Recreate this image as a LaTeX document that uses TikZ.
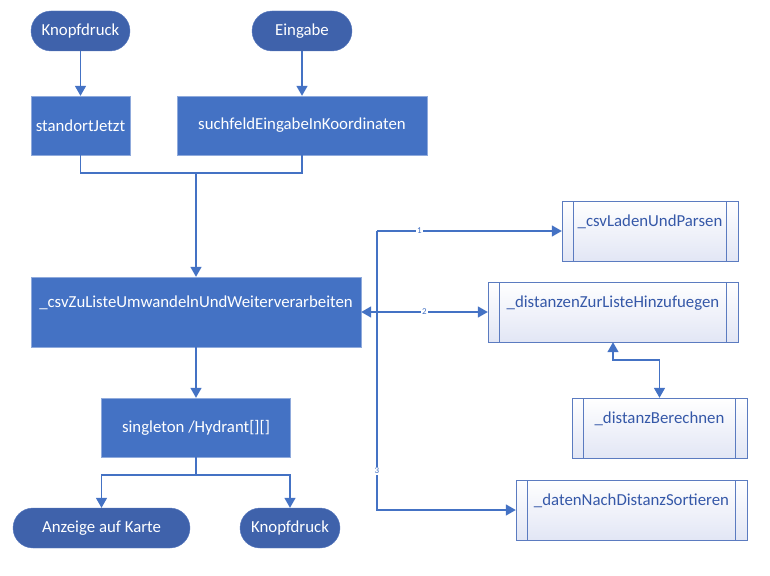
\documentclass[tikz,border=0pt]{standalone}
\usepackage{fontspec}
\setmainfont{Carlito}
\usepackage{tikz}
\usetikzlibrary{arrows.meta}
\definecolor{boxblue}{HTML}{4472C4}
\definecolor{termblue}{HTML}{3F62AB}
\definecolor{boxline}{HTML}{8FAADC}
\definecolor{subline}{HTML}{5B7BC0}
\definecolor{subtext}{HTML}{3558A8}
\definecolor{subfill}{HTML}{E2E6F5}

\begin{document}
\begin{tikzpicture}[x=1pt,y=-1pt,
    >={Triangle[width=11pt,length=10pt]},
    font=\fontsize{16.8}{20}\selectfont,
    term/.style={fill=termblue,draw=subline,text=white,rounded corners=20pt,minimum height=40pt,inner sep=0pt},
    proc/.style={fill=boxblue,draw=boxline,text=white,minimum height=59pt,inner sep=0pt},
    sub/.style={draw=subline,top color=white,bottom color=subfill,text=subtext,minimum height=60pt,inner sep=0pt,
        text height=12pt,text depth=22pt,
        path picture={\draw[subline]
            ([xshift=11.5pt]path picture bounding box.north west) -- ([xshift=11.5pt]path picture bounding box.south west)
            ([xshift=-11.5pt]path picture bounding box.north east) -- ([xshift=-11.5pt]path picture bounding box.south east);}},
    num/.style={font=\fontsize{9}{10}\selectfont,text=boxblue,fill=white,inner sep=1pt},
    link/.style={color=boxblue,line width=1.5pt}]
            \useasboundingbox (0,0) rectangle (770,575);
            \node[term,minimum width=99pt] (A) at (80.5,31) {Knopfdruck};
            \node[term,minimum width=100pt] (B) at (302,31) {Eingabe};
            \node[proc,minimum width=99pt] (C) at (80.5,125.5) {standortJetzt};
            \node[proc,minimum width=250pt] (D) at (302,125.5) {suchfeldEingabeInKoordinaten};
            \node[proc,minimum width=330pt,minimum height=70pt,text height=12pt,text depth=22pt] (E) at (196,312) {\_csvZuListeUmwandelnUndWeiterverarbeiten};
            \node[proc,minimum width=189pt] (F) at (196,427.5) {singleton /Hydrant[][]};
            \node[term,minimum width=177pt] (G) at (101.5,528) {Anzeige auf Karte};
            \node[term,minimum width=100pt] (H) at (290,528) {Knopfdruck};
            \node[sub,minimum width=176pt] (I) at (650,231) {\_csvLadenUndParsen};
            \node[sub,minimum width=250pt] (J) at (613,312) {\_distanzenZurListeHinzufuegen};
            \node[sub,minimum width=175pt] (K) at (659.5,428) {\_distanzBerechnen};
            \node[sub,minimum width=231pt] (L) at (631.5,510) {\_datenNachDistanzSortieren};
            \coordinate (M) at (196,173);
            \coordinate (N) at (196,475);
            \coordinate (T) at (377,231);
            \draw[->,link] (A) -- (C);
            \draw[->,link] (B) -- (D);
            \draw[link] (C.south) |- (M) -| (D.south);
            \draw[->,link] (M) -- (E);
            \draw[->,link] (E) -- (F);
            \draw[->,link] (F.south) -- (N) -| (G.north);
            \draw[->,link] (N) -| (H.north);
            \draw[->,link] (T) -- node[num,pos=.23]{1} (I.west);
            \draw[<->,link] (E.east) -- node[num]{2} (J.west);
            \draw[->,link] (T) |- node[num,pos=.43]{3} (L.west);
            \draw[<->,link] (J.south) -- ++(0,18) -| (K.north);
        \end{tikzpicture}
\end{document}
